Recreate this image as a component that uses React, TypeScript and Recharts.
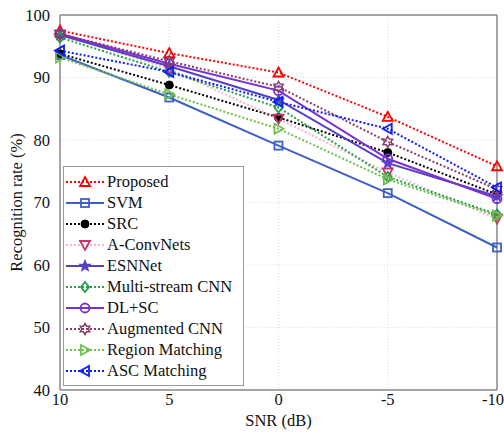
import * as React from 'react';
import { LineChart, Line, XAxis, YAxis, CartesianGrid, Legend, ReferenceLine, Label } from 'recharts';

// SNR levels (dB), drawn from 10 down to -10
const snr = [10, 5, 0, -5, -10];

const proposed = [97.5, 93.9, 90.8, 83.7, 75.8];
const svm = [93.6, 86.8, 79.1, 71.5, 62.8];
const src = [93.8, 88.8, 83.6, 78.0, 71.3];
const aConvNets = [96.9, 91.4, 83.4, 74.8, 67.4];
const esnNet = [96.8, 91.8, 86.4, 76.3, 71.0];
const multiStream = [96.4, 90.9, 85.2, 74.1, 68.1];
const dlSc = [97.0, 92.2, 87.9, 77.0, 70.6];
const augmented = [97.0, 92.6, 88.5, 79.7, 72.1];
const regionMatching = [93.2, 87.3, 81.8, 73.7, 67.9];
const ascMatching = [94.3, 90.9, 86.1, 81.8, 72.4];

const yTicks = [40, 50, 60, 70, 80, 90, 100];

const series = [
	{ key: 'proposed', name: 'Proposed', values: proposed, color: '#ff0000', marker: '#ff0000', dash: '2 2', shape: 'triUp' },
	{ key: 'svm', name: 'SVM', values: svm, color: '#3f5fc8', marker: '#3f5fc8', dash: undefined, shape: 'square' },
	{ key: 'src', name: 'SRC', values: src, color: '#000000', marker: '#000000', dash: '2 2', shape: 'dot' },
	{ key: 'aconv', name: 'A-ConvNets', values: aConvNets, color: '#f4b8cc', marker: '#cc3366', dash: '2 2', shape: 'triDown' },
	{ key: 'esn', name: 'ESNNet', values: esnNet, color: '#5540c4', marker: '#5540c4', dash: undefined, shape: 'star' },
	{ key: 'multi', name: 'Multi-stream CNN', values: multiStream, color: '#22a048', marker: '#22a048', dash: '2 2', shape: 'diamond' },
	{ key: 'dlsc', name: 'DL+SC', values: dlSc, color: '#7a30d2', marker: '#7a30d2', dash: undefined, shape: 'circle' },
	{ key: 'aug', name: 'Augmented CNN', values: augmented, color: '#8b3a66', marker: '#8b3a66', dash: '2 2', shape: 'hex' },
	{ key: 'region', name: 'Region Matching', values: regionMatching, color: '#6cc04a', marker: '#6cc04a', dash: '2 2', shape: 'triRight' },
	{ key: 'asc', name: 'ASC Matching', values: ascMatching, color: '#0a1eff', marker: '#0a1eff', dash: '2 2', shape: 'triLeft' },
];

const data = snr.map((s, i) => {
	const row: any = { snr: s };
	series.forEach((se) => { row[se.key] = se.values[i]; });
	return row;
});

function Marker({ shape, cx, cy, color }) {
	const r = 5;
	const common = { stroke: color, strokeWidth: 1.8, fill: 'none' };
	switch (shape) {
		case 'triUp':
			return <polygon {...common} points={`${cx},${cy - r} ${cx + r},${cy + r * 0.8} ${cx - r},${cy + r * 0.8}`} />;
		case 'triDown':
			return <polygon {...common} points={`${cx},${cy + r} ${cx + r},${cy - r * 0.8} ${cx - r},${cy - r * 0.8}`} />;
		case 'triRight':
			return <polygon {...common} points={`${cx + r},${cy} ${cx - r * 0.8},${cy - r} ${cx - r * 0.8},${cy + r}`} />;
		case 'triLeft':
			return <polygon {...common} points={`${cx - r},${cy} ${cx + r * 0.8},${cy - r} ${cx + r * 0.8},${cy + r}`} />;
		case 'square':
			return <rect {...common} x={cx - 4} y={cy - 4} width={8} height={8} />;
		case 'dot':
			return <circle cx={cx} cy={cy} r={4} fill={color} stroke={color} />;
		case 'circle':
			return <circle {...common} cx={cx} cy={cy} r={4.5} />;
		case 'diamond':
			return <polygon {...common} points={`${cx},${cy - r} ${cx + r * 0.8},${cy} ${cx},${cy + r} ${cx - r * 0.8},${cy}`} />;
		case 'star': {
			const pts = [];
			for (let k = 0; k < 10; k++) {
				const a = -Math.PI / 2 + (k * Math.PI) / 5;
				const rr = k % 2 === 0 ? 5.5 : 2.4;
				pts.push(`${cx + rr * Math.cos(a)},${cy + rr * Math.sin(a)}`);
			}
			return <polygon stroke={color} strokeWidth={1.2} fill={color} points={pts.join(' ')} />;
		}
		case 'hex': {
			const pts = [];
			for (let k = 0; k < 12; k++) {
				const a = -Math.PI / 2 + (k * Math.PI) / 6;
				const rr = k % 2 === 0 ? 5.5 : 3.2;
				pts.push(`${cx + rr * Math.cos(a)},${cy + rr * Math.sin(a)}`);
			}
			return <polygon stroke={color} strokeWidth={1.5} fill="none" points={pts.join(' ')} />;
		}
		default:
			return null;
	}
}

const font = '"Liberation Serif", "Times New Roman", Times, serif';

function LegendBox() {
	return (
		<div style={{ border: '1px solid #9a9a9a', background: '#fff', width: 181, height: 220, boxSizing: 'border-box', paddingTop: 4, fontFamily: font }}>
			{series.map((se) => (
				<div key={se.key} style={{ display: 'flex', alignItems: 'center', height: 21 }}>
					<svg width={42} height={16} style={{ marginLeft: 0 }}>
						<line x1={2} y1={8} x2={40} y2={8} stroke={se.color} strokeWidth={2} strokeDasharray={se.dash} />
						<Marker shape={se.shape} cx={21} cy={8} color={se.marker} />
					</svg>
					<span style={{ fontSize: 16.5, color: '#111', marginLeft: 1, whiteSpace: 'nowrap' }}>{se.name}</span>
				</div>
			))}
		</div>
	);
}

export default function App() {
	return (
		<div style={{ position: 'absolute', left: 0, top: 0, width: 504, height: 438, background: '#fff' }}>
			<LineChart width={504} height={438} data={data} margin={{ top: 15, right: 7, left: 0, bottom: 0 }}>
				<CartesianGrid stroke="#dcdcdc" strokeDasharray="1 2" />
				<XAxis
					dataKey="snr"
					type="number"
					domain={[-10, 10]}
					ticks={snr}
					reversed
					height={48}
					stroke="#8a8a8a"
					strokeWidth={1.5}
					tickLine={false}
					tick={{ fill: '#111', fontSize: 16.5, fontFamily: font }}
					tickMargin={-3}
				>
					<Label value="SNR (dB)" position="insideBottom" offset={12} style={{ fill: '#111', fontSize: 16.5, fontFamily: font }} />
				</XAxis>
				<YAxis
					type="number"
					domain={[40, 100]}
					ticks={yTicks}
					width={60}
					stroke="#8a8a8a"
					strokeWidth={1.5}
					tickLine={false}
					tick={{ fill: '#111', fontSize: 16.5, fontFamily: font }}
					tickMargin={4}
				>
					<Label value="Recognition rate (%)" angle={-90} position="insideLeft" offset={16} style={{ textAnchor: 'middle', fill: '#111', fontSize: 16.5, fontFamily: font }} />
				</YAxis>
				<ReferenceLine y={100} stroke="#8a8a8a" strokeWidth={1.5} />
				<ReferenceLine x={-10} stroke="#8a8a8a" strokeWidth={1.5} />
				{series.map((se) => (
					<Line
						key={se.key}
						dataKey={se.key}
						name={se.name}
						type="linear"
						stroke={se.color}
						strokeWidth={2}
						strokeDasharray={se.dash}
						isAnimationActive={false}
						activeDot={false}
						dot={(p: any) => <Marker key={`${se.key}-${p.index}`} shape={se.shape} cx={p.cx} cy={p.cy} color={se.marker} />}
					/>
				))}
				<Legend
					layout="vertical"
					align="center"
					verticalAlign="middle"
					content={() => <LegendBox />}
					wrapperStyle={{ left: 63, top: 166, width: 181, height: 220 }}
				/>
			</LineChart>
		</div>
	);
}
